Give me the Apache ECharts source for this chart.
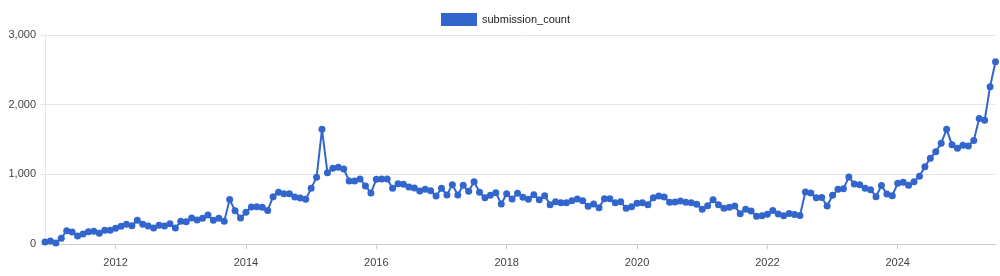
<!DOCTYPE html>
<html><head><meta charset="utf-8">
<script src="https://cdn.jsdelivr.net/npm/echarts@6/dist/echarts.min.js"></script>
<style>html,body{margin:0;padding:0;background:#fff}#c{width:1000px;height:276px}</style>
</head><body><div id="c"></div>
<script>
const seriesName = 'submission_count';
// monthly values, each point placed at the end of its month (Nov 2010 .. Jun 2025)
const startYear = 2010;
const startMonth = 11;
const submissionCount = [
  29, 42, 14, 82, 191, 172, 115, 144, 177, 182, 153, 196,
  196, 225, 254, 282, 263, 340, 282, 258, 230, 268, 258, 292,
  230, 325, 320, 373, 344, 368, 416, 340, 368, 325, 637, 478,
  373, 455, 531, 536, 526, 482, 679, 742, 722, 722, 675, 660,
  641, 799, 957, 1646, 1024, 1086, 1100, 1077, 904, 904, 933, 833,
  732, 928, 933, 933, 799, 866, 856, 818, 804, 761, 785, 766,
  689, 799, 703, 852, 703, 842, 756, 895, 742, 665, 699, 737,
  574, 722, 646, 727, 670, 641, 708, 636, 694, 565, 608, 593,
  593, 622, 646, 622, 541, 574, 522, 651, 651, 593, 608, 512,
  536, 584, 593, 565, 665, 689, 675, 598, 603, 617, 598, 593,
  569, 498, 550, 636, 565, 512, 526, 545, 435, 498, 472, 397,
  404, 428, 480, 430, 404, 438, 423, 409, 746, 733, 665, 668,
  545, 699, 785, 792, 960, 861, 850, 799, 780, 679, 840, 716,
  694, 871, 885, 842, 895, 974, 1110, 1230, 1325, 1447, 1646, 1423,
  1376, 1418, 1408, 1485, 1802, 1775, 2258, 2615
];
const xTickYears = ['2012', '2014', '2016', '2018', '2020', '2022', '2024'];
const yMin = 0, yMax = 3000, yStep = 1000;

// category = month-end date of each monthly value
const months = [];
for (let i = 0; i < submissionCount.length; i++) {
  const m = startMonth - 1 + i;
  const y = startYear + Math.floor(m / 12);
  const mm = (m % 12) + 1;
  const last = new Date(Date.UTC(y, mm, 0)).getUTCDate();
  months.push(y + '-' + String(mm).padStart(2, '0') + '-' + String(last).padStart(2, '0'));
}
// a year boundary (Jan 1) coincides with the end of December
const boundaryYear = v => String(parseInt(v.slice(0, 4), 10) + 1);
const showTick = (idx, val) => val.slice(5, 7) === '12' && xTickYears.includes(boundaryYear(val));

const chart = echarts.init(document.getElementById('c'), null, {renderer: 'canvas'});
chart.setOption({
  animation: false,
  textStyle: {fontFamily: 'Liberation Sans, Arial, sans-serif'},
  legend: {
    top: 13, left: 441, padding: 0, icon: 'rect', itemWidth: 36, itemHeight: 13,
    textStyle: {fontSize: 11, color: '#222', fontFamily: 'Liberation Sans, Arial, sans-serif'}
  },
  grid: {left: 45, right: 4.5, top: 35, bottom: 32, containLabel: false},
  xAxis: {
    type: 'category', data: months, boundaryGap: false,
    axisLine: {show: true, lineStyle: {color: '#cccccc', width: 1}},
    axisTick: {show: true, interval: showTick, length: 5, lineStyle: {color: '#cccccc'}},
    axisLabel: {interval: showTick, formatter: v => boundaryYear(v), color: '#444', fontSize: 11, margin: 13},
    splitLine: {show: false}
  },
  yAxis: {
    type: 'value', min: yMin, max: yMax, interval: yStep,
    axisLine: {show: true, lineStyle: {color: '#e6e6e6'}},
    axisTick: {show: true, length: 5, lineStyle: {color: '#e6e6e6'}},
    axisLabel: {color: '#444', fontSize: 11, margin: 9, formatter: v => v.toLocaleString('en-US')},
    splitLine: {show: true, lineStyle: {color: '#e6e6e6', width: 1}}
  },
  series: [{
    name: seriesName, type: 'line', data: submissionCount,
    symbol: 'circle', symbolSize: 7, showSymbol: true, showAllSymbol: true,
    color: '#3366cc',
    lineStyle: {color: '#3366cc', width: 2},
    itemStyle: {color: '#3366cc'}
  }]
});
</script>
</body></html>
